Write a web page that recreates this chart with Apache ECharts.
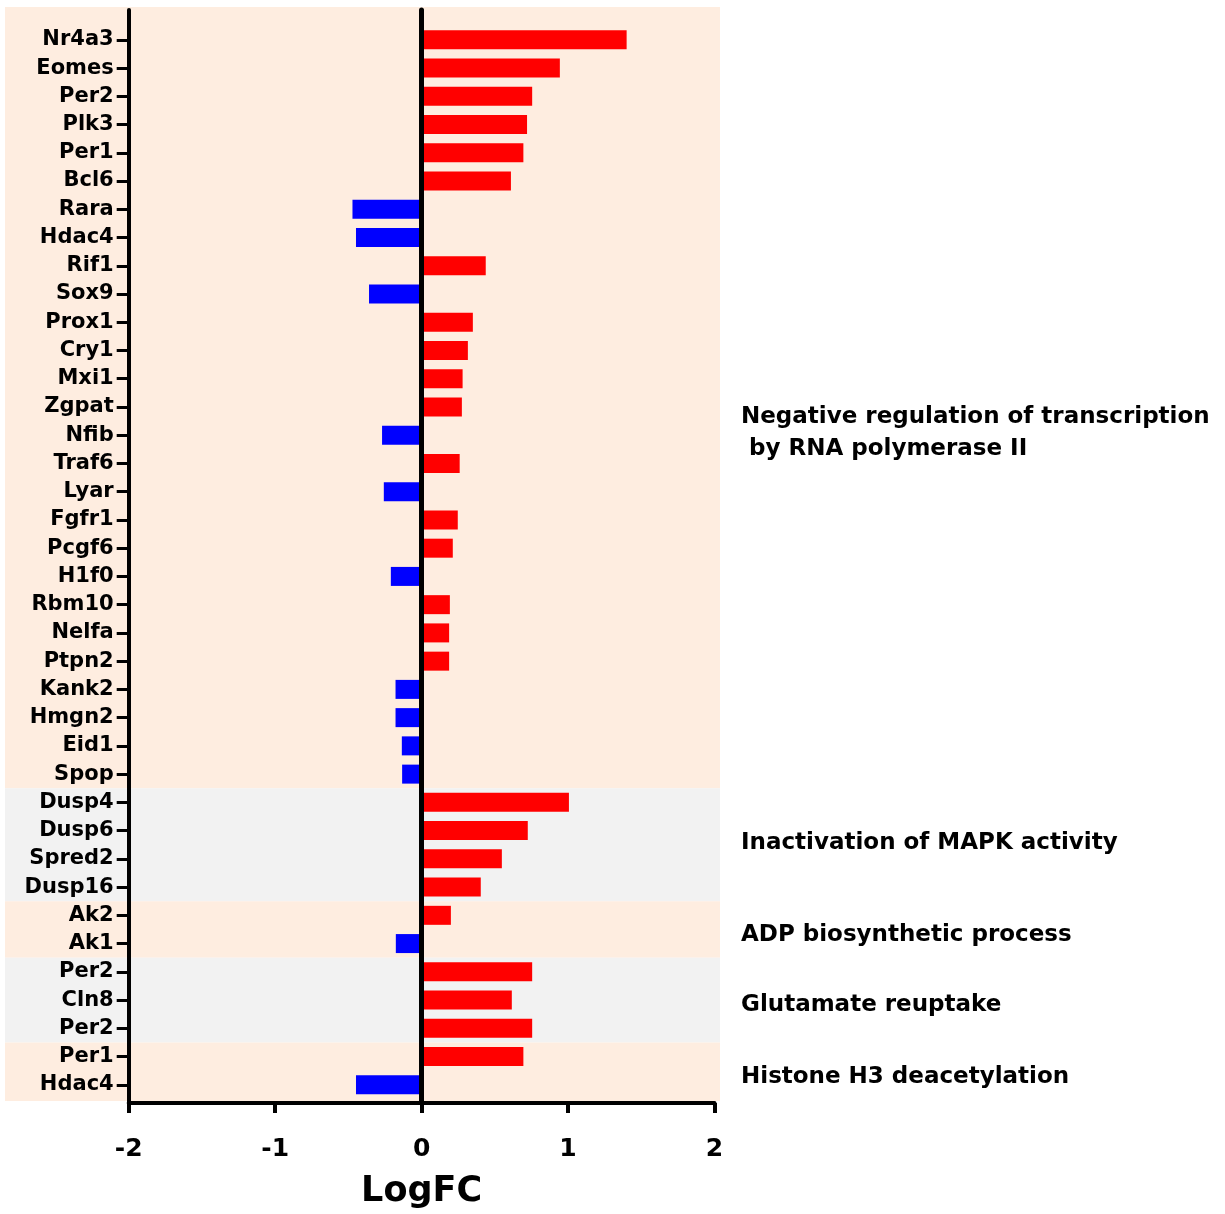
<!DOCTYPE html>
<html>
<head>
<meta charset="utf-8">
<script src="https://cdn.jsdelivr.net/npm/echarts@6/dist/echarts.min.js"></script>
<style>
  html, body { margin: 0; padding: 0; background: #fff; }
  #chart { width: 1225px; height: 1214px; }
</style>
</head>
<body>
<div id="chart"></div>
<script>
// Genes, top to bottom
const genes = [
  'Nr4a3', 'Eomes', 'Per2', 'Plk3', 'Per1', 'Bcl6', 'Rara', 'Hdac4', 'Rif1', 'Sox9',
  'Prox1', 'Cry1', 'Mxi1', 'Zgpat', 'Nfib', 'Traf6', 'Lyar', 'Fgfr1', 'Pcgf6', 'H1f0',
  'Rbm10', 'Nelfa', 'Ptpn2', 'Kank2', 'Hmgn2', 'Eid1', 'Spop',
  'Dusp4', 'Dusp6', 'Spred2', 'Dusp16',
  'Ak2', 'Ak1',
  'Per2', 'Cln8', 'Per2',
  'Per1', 'Hdac4'
];

// Log fold change for each gene
const logFC = [
  1.40, 0.944, 0.755, 0.72, 0.695, 0.61, -0.472, -0.448, 0.438, -0.359,
  0.35, 0.316, 0.28, 0.275, -0.27, 0.26, -0.258, 0.247, 0.213, -0.21,
  0.193, 0.188, 0.188, -0.178, -0.178, -0.135, -0.133,
  1.006, 0.725, 0.548, 0.404,
  0.20, -0.176,
  0.755, 0.616, 0.755,
  0.695, -0.448
];

// GO terms and how many consecutive genes belong to each
const termNames = [
  'Negative regulation of transcription\n by RNA polymerase II',
  'Inactivation of MAPK activity',
  'ADP biosynthetic process',
  'Glutamate reuptake',
  'Histone H3 deacetylation'
];
const termSizes = [27, 4, 2, 3, 2];

// LogFC axis
const xMin = -2, xMax = 2, xStep = 1;

const FONT = 'DejaVu Sans';
const PEACH = '#FEEDE0';
const GREY = '#F2F2F2';
const UP = '#FF0000';
const DOWN = '#0000FF';

const chart = echarts.init(document.getElementById('chart'), null, { renderer: 'canvas' });

const plotLeft = 128.7, plotWidth = 585.8;

const option = {
  animation: false,
  backgroundColor: '#fff',
  grid: [
    // frame: axis lines and LogFC ticks
    { left: plotLeft, top: 10, width: plotWidth, height: 1093.5 },
    // gene rows
    { left: plotLeft, top: 25.7, width: plotWidth, height: 1073.2 }
  ],
  xAxis: [
    {
      gridIndex: 0, type: 'value', min: xMin, max: xMax, interval: xStep,
      position: 'bottom', z: 10,
      axisLine: { show: true, onZero: false, lineStyle: { color: '#000', width: 4 } },
      axisTick: { show: true, inside: false, length: 10, lineStyle: { color: '#000', width: 4 } },
      axisLabel: { margin: 34, color: '#000', fontFamily: FONT, fontWeight: 'bold', fontSize: 25 },
      splitLine: { show: false },
      name: 'LogFC', nameLocation: 'middle', nameGap: 71,
      nameTextStyle: { color: '#000', fontFamily: FONT, fontWeight: 'bold', fontSize: 35 }
    },
    { gridIndex: 1, type: 'value', min: xMin, max: xMax, show: false }
  ],
  yAxis: [
    {
      gridIndex: 0, type: 'value', min: 0, max: 1, position: 'left', z: 10,
      axisLine: { show: true, onZero: false, lineStyle: { color: '#000', width: 4 } },
      axisTick: { show: false }, axisLabel: { show: false }, splitLine: { show: false }
    },
    {
      // zero line
      gridIndex: 0, type: 'value', min: 0, max: 1, position: 'left', z: 10,
      axisLine: { show: true, onZero: true, lineStyle: { color: '#000', width: 5 } },
      axisTick: { show: false }, axisLabel: { show: false }, splitLine: { show: false }
    },
    {
      gridIndex: 1, type: 'category', data: genes, inverse: true, position: 'left',
      axisLine: { show: false, onZero: false },
      axisTick: { show: true, alignWithLabel: true, length: 12, lineStyle: { color: '#000', width: 3 } },
      axisLabel: { margin: 15, color: '#000', fontFamily: FONT, fontWeight: 'bold', fontSize: 21, interval: 0 },
      splitLine: { show: false }
    }
  ],
  series: [
    {
      type: 'bar', xAxisIndex: 1, yAxisIndex: 2,
      data: logFC, barWidth: 19,
      itemStyle: { color: p => (p.value >= 0 ? UP : DOWN) }
    }
  ]
};

chart.setOption(option);

// Shaded term bands and term titles, placed from the gene axis
const rowY = i => chart.convertToPixel({ yAxisIndex: 2 }, i);
const band = rowY(1) - rowY(0);
const frameTop = chart.convertToPixel({ yAxisIndex: 0 }, 1);
const frameBottom = chart.convertToPixel({ yAxisIndex: 0 }, 0);
const xRight = chart.convertToPixel({ xAxisIndex: 0 }, xMax);
const titleShift = [26, -2, 6, 5, 6];

const shapes = [];
const titles = [];
let start = 0;
termSizes.forEach((n, g) => {
  const last = start + n - 1;
  let y0 = rowY(start) - band / 2;
  let y1 = rowY(last) + band / 2;
  if (g === 0) y0 = frameTop - 3;
  if (g === termSizes.length - 1) y1 = frameBottom - 2;
  shapes.push({
    type: 'rect', silent: true, z: -10,
    shape: { x: 5, y: y0, width: xRight + 5.5 - 5, height: y1 - y0 },
    style: { fill: g % 2 ? GREY : PEACH }
  });
  titles.push({
    type: 'text', silent: true, z: 10,
    x: xRight + 26.5,
    y: (rowY(start) + rowY(last)) / 2 + titleShift[g],
    style: {
      text: termNames[g], fill: '#000',
      font: 'bold 23px "' + FONT + '"',
      lineHeight: 32, verticalAlign: 'middle', align: 'left'
    }
  });
  start += n;
});

chart.setOption({ graphic: shapes.concat(titles) });
</script>
</body>
</html>
